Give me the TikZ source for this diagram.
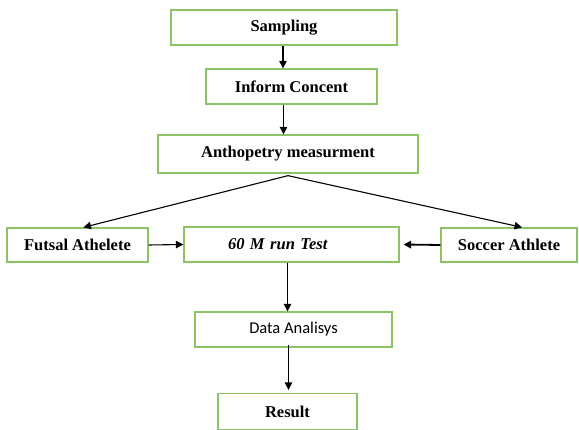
\documentclass[tikz,border=0pt]{standalone}
\usepackage{fontspec}
\setmainfont{Liberation Serif}
\newfontfamily\calib{Carlito}
\usetikzlibrary{arrows.meta}
\definecolor{boxgreen}{RGB}{140,195,100}
\tikzset{
  stepbox/.style={draw=boxgreen,line width=1.3pt,inner sep=0pt,font=\fontsize{16.5}{19}\selectfont\bfseries},
  arr/.style={-{Triangle[length=7.5pt,width=7.5pt]},line width=1.1pt}
}
\begin{document}
\begin{tikzpicture}
[x=1pt,y=-1pt]
\useasboundingbox (0,0) rectangle (579,430);
\node[stepbox,minimum width=226pt,minimum height=35pt] (samp) at (284,27.5) {Sampling};
\node[stepbox,minimum width=171pt,minimum height=35pt] (inf) at (291.5,86.5) {Inform Concent};
\node[stepbox,minimum width=260pt,minimum height=38pt] (anth) at (288,154) {Anthopetry measurment};
\node[stepbox,minimum width=141pt,minimum height=34pt] (futsal) at (77.5,245) {Futsal Athelete};
\node[stepbox,text width=215pt,align=left,minimum height=35pt] (test) at (291.5,244.5) {\hspace*{44pt}\itshape 60 M run Test};
\node[stepbox,minimum width=136pt,minimum height=34pt] (soccer) at (509,245) {Soccer Athlete};
\node[stepbox,minimum width=197pt,minimum height=35pt,font=\calib\fontsize{16.5}{19}\selectfont] (data) at (293.5,329.5) {Data Analisys};
\node[stepbox,minimum width=139pt,minimum height=36pt] (res) at (287.5,411.5) {Result};
% arrows
\draw[arr] ([xshift=-1pt]samp.south) -- ([xshift=-1pt]samp.south |- inf.north);
\draw[arr] ([xshift=-8pt]inf.south) -- ([xshift=-8pt]inf.south |- anth.north);
\draw[arr] ([yshift=-2pt]anth.south) -- ([xshift=6pt]futsal.north);
\draw[arr] ([yshift=-2pt]anth.south) -- ([xshift=13pt]soccer.north);
\draw[arr] (futsal.east) -- (test.west);
\draw[arr,line width=1.8pt] (soccer.west) -- ([xshift=4pt]test.east);
\draw[arr] ([xshift=-4pt]test.south) -- ([xshift=-4pt]test.south |- data.north);
\draw[arr] ([xshift=-5pt,yshift=3pt]data.south) -- ([xshift=-5pt,yshift=3pt]data.south |- res.north);
\end{tikzpicture}
\end{document}
